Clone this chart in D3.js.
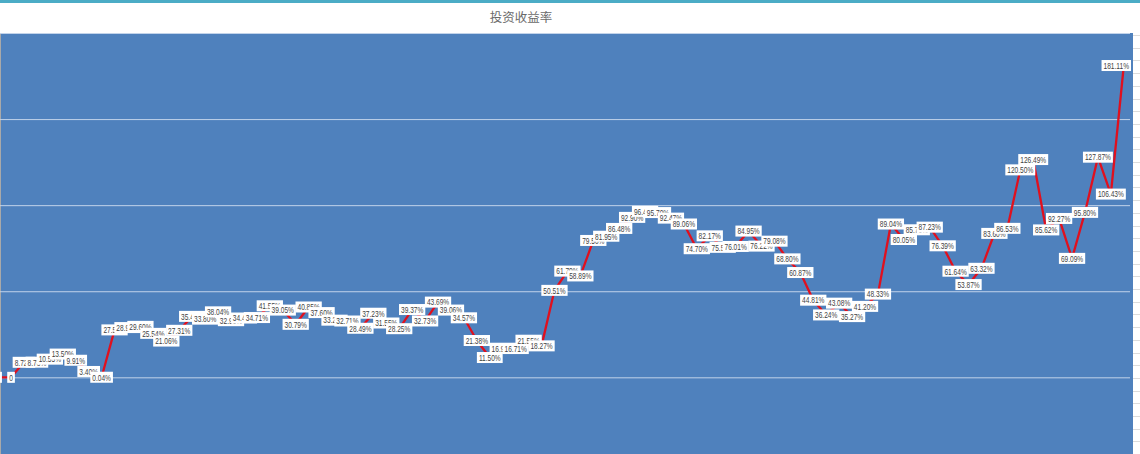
<!DOCTYPE html>
<html>
<head>
<meta charset="utf-8">
<script src="https://cdn.jsdelivr.net/npm/d3@7"></script>
<style>
  html, body { margin: 0; padding: 0; background: #ffffff; overflow: hidden; }
</style>
</head>
<body>
<div id="chart"></div>
<script>
// chart data
var title = "投资收益率";

// investment return (%) per period, first one sits just off the left edge
var returns = [
  0, 0, 8.72, 8.78, 10.55, 13.50, 9.91, 3.40, 0.04, 27.55,
  28.90, 29.60, 25.54, 21.06, 27.31, 35.40, 33.80, 38.04, 32.90, 34.45,
  34.71, 41.55, 39.05, 30.79, 40.85, 37.60, 33.20, 32.71, 28.49, 37.23,
  31.55, 28.25, 39.37, 32.73, 43.69, 39.06, 34.57, 21.38, 11.50, 16.90,
  16.71, 21.55, 18.27, 50.51, 61.70, 58.89, 79.50, 81.95, 86.48, 92.90,
  96.40, 95.70, 92.47, 89.06, 74.70, 82.17, 75.50, 76.01, 84.95, 76.22,
  79.08, 68.80, 60.87, 44.81, 36.24, 43.08, 35.27, 41.20, 48.33, 89.04,
  80.05, 85.70, 87.23, 76.39, 61.64, 53.87, 63.32, 83.60, 86.53, 120.50,
  126.49, 85.62, 92.27, 69.09, 95.80, 127.87, 106.43, 181.11
];

// gridline values (%)
var yTicks = [-50, 0, 50, 100, 150, 200];

var svgWidth = 1140;
var svgHeight = 454;

var plot = { left: 0, right: 1133, top: 33, bottom: 463.4 };

var svg = d3.select("#chart")
  .append("svg")
  .attr("width", svgWidth)
  .attr("height", svgHeight)
  .style("display", "block");

// teal strip + white title band
svg.append("rect")
  .attr("x", 0).attr("y", 0)
  .attr("width", svgWidth).attr("height", 3)
  .attr("fill", "#4bacc6");

svg.append("rect")
  .attr("x", 0).attr("y", 3)
  .attr("width", svgWidth).attr("height", 30)
  .attr("fill", "#ffffff");

svg.append("text")
  .attr("x", 521)
  .attr("y", 21.5)
  .attr("text-anchor", "middle")
  .attr("font-family", "'Noto Sans CJK SC', sans-serif")
  .attr("font-size", "12.5px")
  .attr("fill", "#6a6a6a")
  .text(title);

// spreadsheet cells showing at the right edge
var cellLines = d3.range(35, svgHeight, 12.7);
svg.selectAll("line.cell")
  .data(cellLines)
  .enter()
  .append("line")
  .attr("class", "cell")
  .attr("x1", plot.right).attr("x2", svgWidth)
  .attr("y1", d => Math.round(d) + 0.5).attr("y2", d => Math.round(d) + 0.5)
  .attr("stroke", "#dcdcdc");

// plot background
svg.append("rect")
  .attr("x", plot.left).attr("y", plot.top)
  .attr("width", plot.right - plot.left)
  .attr("height", svgHeight - plot.top)
  .attr("fill", "#4f81bd");

svg.append("line")
  .attr("x1", 0.5).attr("x2", 0.5)
  .attr("y1", plot.top).attr("y2", svgHeight)
  .attr("stroke", "#a9a9a9");

// scales
var xScale = d3.scaleLinear()
  .domain([0, returns.length - 1])
  .range([-1.9, 1123.8]);

var yScale = d3.scaleLinear()
  .domain([-50, 200])
  .range([plot.bottom, plot.top]);

// horizontal gridlines
var leftAxis = d3.axisLeft(yScale)
  .tickValues(yTicks)
  .tickSize(-(1130 - plot.left))
  .tickFormat("");

var grid = svg.append("g")
  .attr("transform", `translate(${plot.left}, 0)`)
  .call(leftAxis);

grid.select(".domain").remove();
grid.selectAll(".tick line")
  .attr("stroke", "#c2d3ea")
  .attr("stroke-width", 1);

// the return line
var line = d3.line()
  .x((d, i) => xScale(i))
  .y(d => yScale(d));

svg.append("path")
  .datum(returns)
  .attr("d", line)
  .attr("fill", "none")
  .attr("stroke", "#e0101e")
  .attr("stroke-width", 2.3)
  .attr("stroke-linejoin", "round");

// data labels, later ones drawn over earlier ones
function fmt(v) {
  return v === 0 ? "0" : v.toFixed(2) + "%";
}

var labels = svg.selectAll("g.lbl")
  .data(returns)
  .enter()
  .append("g")
  .attr("class", "lbl");

labels.each(function(d, i) {
  var g = d3.select(this);
  var rect = g.append("rect")
    .attr("fill", "#ffffff");
  var txt = g.append("text")
    .attr("font-family", "'Liberation Sans', Arial, sans-serif")
    .attr("font-size", "9px")
    .attr("fill", "#3f3f3f")
    .attr("text-anchor", "middle")
    .text(fmt(d));

  // narrow the glyphs a bit, the original uses a condensed face
  var tw = txt.node().getComputedTextLength() * 0.73;
  txt.attr("textLength", tw).attr("lengthAdjust", "spacingAndGlyphs");

  var w = tw + 4;
  var h = 11;
  var cx = xScale(i);
  // keep label inside plot on the right side
  if (cx + w / 2 > plot.right - 2) cx = plot.right - 2 - w / 2;
  var cy = yScale(d);

  rect.attr("x", cx - w / 2)
    .attr("y", cy - h / 2)
    .attr("width", w)
    .attr("height", h);
  txt.attr("x", cx).attr("y", cy + 3.3);
});
</script>
</body>
</html>
